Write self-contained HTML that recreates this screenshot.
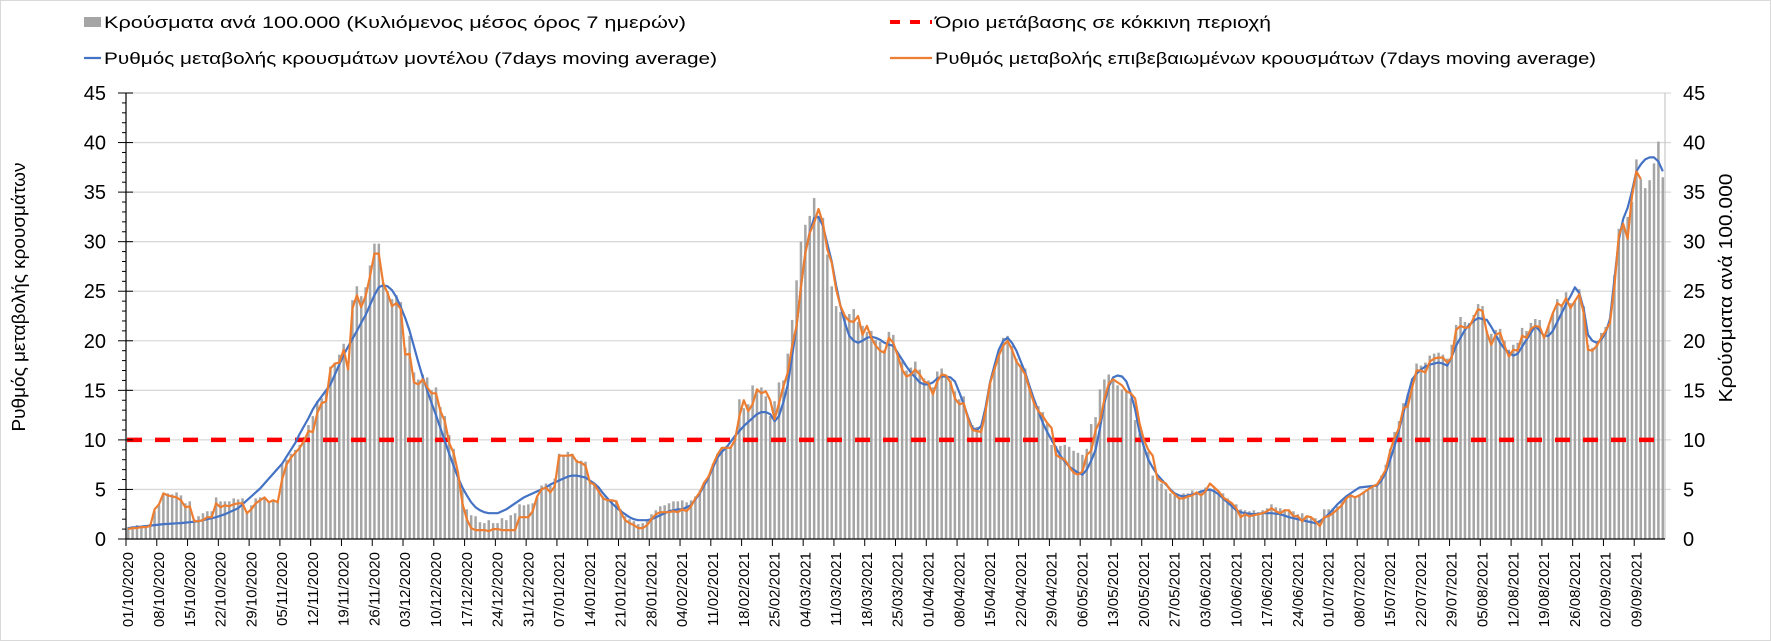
<!DOCTYPE html>
<html><head><meta charset="utf-8">
<style>
html,body{margin:0;padding:0;background:#fff;}
svg{display:block;font-family:"Liberation Sans",Arial,sans-serif;}
</style></head>
<body>
<svg id="chart" width="1771" height="641" viewBox="0 0 1771 641" xmlns="http://www.w3.org/2000/svg">
<rect x="0.5" y="0.5" width="1770" height="640" fill="#fff" stroke="#d9d9d9"/>
<g id="grid"></g>
<g id="bars"></g>
<g id="lines"></g>
<g id="axes"></g>
<g>
  <g>
    <rect x="84" y="17" width="17" height="10" fill="#a5a5a5"/>
    <text x="104" y="28" font-size="17" fill="#000" textLength="582" lengthAdjust="spacingAndGlyphs">Κρούσματα ανά 100.000 (Κυλιόμενος μέσος όρος 7 ημερών)</text>
  </g>
  <g>
    <line x1="84" y1="58" x2="101" y2="58" stroke="#4472c4" stroke-width="2.2"/>
    <text x="104" y="64" font-size="17" fill="#000" textLength="613" lengthAdjust="spacingAndGlyphs">Ρυθμός μεταβολής κρουσμάτων μοντέλου (7days moving average)</text>
  </g>
  <g>
    <line x1="890" y1="22" x2="932" y2="22" stroke="#ff0000" stroke-width="4" stroke-dasharray="10 10"/>
    <text x="935" y="28" font-size="17" fill="#000" textLength="336" lengthAdjust="spacingAndGlyphs">Όριο μετάβασης σε κόκκινη περιοχή</text>
  </g>
  <g>
    <line x1="890" y1="58" x2="932" y2="58" stroke="#ed7d31" stroke-width="2.2"/>
    <text x="935" y="64" font-size="17" fill="#000" textLength="661" lengthAdjust="spacingAndGlyphs">Ρυθμός μεταβολής επιβεβαιωμένων κρουσμάτων (7days moving average)</text>
  </g>
</g>
<text transform="translate(25,297) rotate(-90)" text-anchor="middle" font-size="18" fill="#000" textLength="269" lengthAdjust="spacingAndGlyphs">Ρυθμός μεταβολής κρουσμάτων</text>
<text transform="translate(1732,288) rotate(-90)" text-anchor="middle" font-size="18" fill="#000" textLength="229" lengthAdjust="spacingAndGlyphs">Κρούσματα ανά 100.000</text>
</svg>
<script>
const cases = [
1.2,1.3,1.4,1.3,1.4,1.5,2.8,3.4,4.6,4.6,
4.5,4.7,4.4,3.6,3.8,2.0,2.3,2.6,2.8,2.8,
4.2,3.8,3.8,3.8,4.1,4.0,4.1,2.8,3.4,4.1,
4.2,4.1,3.8,3.9,3.9,7.5,8.0,8.6,9.0,9.5,
10.3,11.5,12.4,13.9,14.2,14.9,17.4,17.8,18.6,19.7,
17.4,24.1,25.5,24.5,25.4,27.6,29.8,29.8,25.9,25.0,
24.2,24.6,23.9,19.3,20.5,16.8,16.1,16.6,16.3,15.0,
15.3,13.3,12.4,10.5,9.1,6.1,5.0,3.0,2.4,2.3,
1.7,1.6,1.9,1.6,1.6,2.1,1.9,2.4,2.6,3.5,
3.4,3.5,3.6,4.3,5.4,5.6,5.4,6.1,8.6,8.5,
8.8,8.6,8.0,7.9,7.8,5.8,5.6,4.9,4.3,4.1,
4.0,3.9,3.0,2.3,2.0,1.8,1.5,1.6,1.9,2.5,
2.9,3.3,3.4,3.6,3.8,3.8,3.9,3.7,3.9,4.3,
4.9,5.7,6.4,7.6,8.6,9.2,9.4,9.3,10.1,14.1,
13.2,13.6,15.5,14.9,15.3,14.4,12.4,13.9,15.8,16.0,
18.7,22.1,26.1,30.0,31.7,32.6,34.4,32.6,32.4,28.7,
25.5,23.5,22.9,22.4,22.7,23.2,21.9,21.5,20.9,21.0,
20.1,19.9,19.1,20.9,20.6,18.7,17.9,17.0,17.3,17.9,
17.1,16.2,16.0,15.3,16.9,17.2,16.3,16.0,14.9,14.1,
14.4,12.3,11.5,11.3,11.3,13.0,15.7,17.4,18.8,20.3,
20.5,19.5,18.2,17.6,17.2,15.3,14.1,13.4,12.8,11.6,
9.5,9.4,9.4,9.5,9.3,8.9,8.7,8.5,9.1,11.6,
12.3,15.1,16.1,16.6,16.1,15.5,15.1,15.0,14.2,12.0,
10.6,9.4,8.8,6.4,6.1,5.6,5.0,4.6,4.4,4.2,
4.6,4.6,4.9,4.5,4.9,5.2,5.0,5.1,4.8,4.6,
4.1,3.6,3.5,3.0,2.9,2.8,2.9,2.7,2.9,3.1,
3.5,3.2,3.1,3.0,2.8,2.8,2.5,2.6,2.2,2.1,
2.1,1.9,3.0,3.0,3.1,3.3,3.8,4.2,4.4,4.2,
4.5,4.8,4.9,5.3,5.6,6.4,7.5,9.1,10.8,11.9,
13.7,14.6,16.2,17.7,17.5,17.8,18.5,18.7,18.8,18.6,
18.2,19.6,21.6,22.4,21.9,21.8,22.6,23.7,23.5,21.0,
20.7,21.1,21.2,20.0,19.1,19.6,19.8,21.3,21.0,21.8,
22.2,22.1,20.6,21.5,22.8,24.2,23.6,24.9,23.8,24.0,
25.2,23.5,19.6,19.3,19.7,20.8,21.4,22.3,26.6,31.3,
31.8,32.5,34.0,38.3,36.3,35.4,36.2,37.9,40.1,36.5];
const modelRate = [
1.1,1.15,1.2,1.25,1.3,1.35,1.4,1.45,1.5,1.52,
1.55,1.58,1.6,1.65,1.7,1.75,1.8,1.9,2.0,2.1,
2.2,2.35,2.5,2.7,2.9,3.1,3.5,3.9,4.3,4.7,
5.1,5.6,6.1,6.6,7.1,7.6,8.3,9.0,9.7,10.6,
11.4,12.2,13.1,13.8,14.4,15.0,15.6,16.6,17.6,18.6,
19.4,20.2,21.0,21.8,22.6,23.6,24.6,25.4,25.6,25.5,
25.1,24.4,23.4,22.3,21.0,19.4,17.8,16.3,15.0,13.7,
12.5,11.2,9.9,8.6,7.4,6.2,5.2,4.4,3.7,3.2,
2.9,2.7,2.6,2.6,2.6,2.8,3.0,3.3,3.6,3.9,
4.2,4.4,4.6,4.8,5.0,5.2,5.5,5.7,5.9,6.1,
6.3,6.4,6.4,6.3,6.2,5.9,5.6,5.2,4.6,4.1,
3.6,3.2,2.8,2.5,2.2,2.0,1.9,1.9,1.9,2.0,
2.2,2.4,2.6,2.8,2.9,3.0,3.0,3.2,3.4,4.0,
4.6,5.4,6.2,7.2,8.2,8.8,9.2,9.8,10.4,10.9,
11.4,11.8,12.2,12.6,12.8,12.8,12.6,11.9,12.4,13.8,
15.6,18.5,21.5,25.5,28.9,31.0,32.4,32.5,31.6,29.8,
28.0,25.6,23.5,21.8,20.5,20.0,19.8,20.0,20.3,20.4,
20.3,20.1,19.8,19.6,19.5,18.8,18.1,17.4,16.8,16.3,
15.8,15.6,15.6,15.8,16.2,16.4,16.4,16.3,15.9,14.8,
13.6,12.3,11.2,11.0,11.4,13.3,15.8,17.5,19.1,20.0,
20.3,19.8,19.0,17.9,16.8,15.4,14.1,12.9,11.7,10.8,
10.0,9.2,8.4,7.8,7.3,7.0,6.7,6.5,7.0,7.9,
9.0,11.2,13.7,15.4,16.3,16.5,16.4,15.9,14.7,13.1,
10.8,9.3,8.0,7.2,6.5,6.0,5.5,5.0,4.6,4.4,
4.3,4.4,4.5,4.6,4.8,4.9,5.0,4.8,4.5,4.1,
3.7,3.3,2.9,2.7,2.6,2.55,2.5,2.55,2.6,2.6,
2.6,2.55,2.5,2.35,2.2,2.1,2.0,1.9,1.8,1.7,
1.6,1.8,2.1,2.5,3.0,3.5,3.9,4.3,4.6,4.9,
5.2,5.25,5.3,5.35,5.4,5.9,6.7,8.0,9.4,11.0,
12.7,14.5,16.1,16.7,17.1,17.4,17.6,17.7,17.8,17.7,
17.5,18.4,19.5,20.3,21.1,21.6,22.0,22.3,22.2,22.1,
21.4,20.6,19.8,19.2,18.8,18.5,18.7,19.4,20.1,20.8,
21.5,21.0,20.5,20.5,21.0,21.9,22.8,23.7,24.5,25.4,
24.8,23.2,20.6,20.0,19.8,20.1,20.8,22.2,26.2,30.2,
32.3,33.4,35.1,37.1,37.8,38.3,38.5,38.5,38.1,37.1];
const confirmedRate = [
1.0,1.1,1.1,1.2,1.2,1.3,3.0,3.5,4.6,4.4,
4.3,4.2,3.9,3.2,3.3,1.8,1.8,1.9,2.2,2.2,
3.6,3.2,3.4,3.3,3.5,3.6,3.6,2.6,3.0,3.6,
3.9,4.2,3.7,3.9,3.7,6.0,7.5,8.2,8.7,9.2,
9.9,10.9,10.8,12.7,13.7,13.9,17.2,17.7,17.8,19.1,
17.1,23.3,24.6,23.4,24.5,26.5,28.8,28.8,25.8,24.8,
23.5,23.8,23.2,18.6,18.7,15.8,15.6,16.1,15.3,14.7,
14.7,12.9,11.9,9.7,8.7,6.7,3.6,2.0,1.1,0.9,
0.9,0.9,0.8,1.0,1.0,0.9,0.9,0.9,0.9,2.2,
2.2,2.2,2.8,4.3,5.0,5.2,4.7,5.3,8.4,8.4,
8.4,8.5,7.8,7.7,7.4,5.7,5.5,4.8,4.1,3.9,
3.9,3.8,2.7,1.9,1.6,1.4,1.1,1.1,1.4,2.0,
2.5,2.7,2.7,2.7,2.8,2.7,3.0,2.8,3.3,4.1,
4.7,5.7,6.3,7.5,8.5,9.2,9.2,9.2,10.0,12.4,
14.0,12.9,13.6,15.1,14.7,14.9,14.0,12.1,13.7,15.4,
16.8,19.5,21.5,25.5,28.9,30.9,31.9,33.3,31.9,29.2,
27.9,25.2,23.5,22.5,22.0,21.9,22.5,20.6,21.5,20.3,
19.5,19.0,18.8,20.3,19.8,18.5,17.1,16.4,16.6,17.1,
16.6,15.9,15.7,14.6,15.9,16.6,16.5,15.8,14.2,13.6,
13.7,12.1,11.0,10.9,10.8,12.9,15.7,17.1,18.5,19.5,
20.0,19.1,17.9,17.3,16.6,15.1,13.7,12.9,12.4,11.7,
11.2,8.5,8.2,8.0,7.3,6.7,6.5,6.8,8.5,8.9,
11.0,11.9,14.1,15.7,16.1,15.8,15.5,14.9,14.7,14.2,
11.7,10.0,9.0,8.4,6.2,5.8,5.6,4.9,4.5,4.1,
4.1,4.3,4.4,4.7,4.4,4.8,5.6,5.2,4.8,4.2,
3.9,3.6,3.1,2.2,2.5,2.3,2.4,2.5,2.6,2.8,
3.1,2.8,2.6,2.9,2.9,2.3,2.3,1.8,2.3,2.2,
1.8,1.3,2.2,2.3,2.6,3.0,3.4,4.1,4.4,4.2,
4.4,4.7,5.0,5.3,5.5,6.2,7.0,8.9,10.2,11.2,
13.2,13.4,15.3,17.0,17.0,16.8,17.9,18.2,18.3,18.3,
17.8,18.3,21.1,21.5,21.3,21.4,22.3,23.2,23.0,20.8,
19.6,20.6,20.8,19.5,18.4,19.1,19.0,20.5,20.3,21.2,
21.5,21.4,20.3,21.5,22.8,23.8,23.5,24.3,23.3,24.0,
24.7,22.8,19.1,19.0,19.5,20.3,21.0,21.8,25.5,30.6,
31.8,30.3,34.6,37.1,36.3];
const threshold = [10];
const yTicks = [0,5,10,15,20,25,30,35,40,45];
const startDate = [2020,10,1];

const NS = "http://www.w3.org/2000/svg";
const L = 126, R = 1665, T = 93, B = 539, YMAX = 45;
const N = cases.length;
const w = (R - L) / N;
function xBand(i){ return L + i * w; }
function xMid(i){ return L + (i + 0.5) * w; }
function y(v){ return B - v / YMAX * (B - T); }
function mk(tag, attrs, parent){
  const e = document.createElementNS(NS, tag);
  for (const k in attrs) e.setAttribute(k, attrs[k]);
  parent.appendChild(e);
  return e;
}
const grid = document.getElementById('grid');
const axes = document.getElementById('axes');
const barsG = document.getElementById('bars');
const linesG = document.getElementById('lines');

yTicks.forEach(t => {
  if (t > 0) {
    const g = mk('line', {x1:L, x2:1671, y1:y(t), y2:y(t), stroke:'#d9d9d9', 'stroke-width':1.3}, grid);
    
    
  }
  const lt = mk('text', {x:106, y:y(t)+7, 'text-anchor':'end', 'font-size':20, fill:'#000'}, axes);
  lt.textContent = t;
  
  
  const rt = mk('text', {x:1683, y:y(t)+7, 'text-anchor':'start', 'font-size':20, fill:'#000'}, axes);
  rt.textContent = t;
  
  
});
for (let v = 0; v <= YMAX; v++) {
  const major = v % 5 === 0;
  mk('line', {x1: major ? 118 : 122, x2: major ? 133 : L, y1:y(v), y2:y(v), stroke:'#000', 'stroke-width':1}, axes);
}
mk('line', {x1:R, x2:R, y1:T, y2:B, stroke:'#bfbfbf', 'stroke-width':1}, grid);

cases.forEach((v, i) => {
  const r = mk('rect', {x: xMid(i) - 1.25, y: y(v), width: 2.5, height: B - y(v), fill:'#a5a5a5'}, barsG);
  
  
});

const th = mk('line', {x1:L+1, x2:1655, y1:y(threshold[0]), y2:y(threshold[0]), stroke:'#ff0000', 'stroke-width':4.5, 'stroke-dasharray':'15 13'}, linesG);



function path(arr){ return arr.map((v,i) => (i ? 'L' : 'M') + xMid(i).toFixed(1) + ',' + y(v).toFixed(1)).join(''); }
const pb = mk('path', {d: path(modelRate), fill:'none', stroke:'#4472c4', 'stroke-width':2.2, 'stroke-linejoin':'round'}, linesG);


const po = mk('path', {d: path(confirmedRate), fill:'none', stroke:'#ed7d31', 'stroke-width':2.2, 'stroke-linejoin':'round'}, linesG);



mk('line', {x1:L, x2:L, y1:T, y2:B, stroke:'#000', 'stroke-width':1.2}, axes);
mk('line', {x1:L, x2:R, y1:B, y2:B, stroke:'#000', 'stroke-width':1.2}, axes);

const d0 = new Date(startDate[0], startDate[1]-1, startDate[2], 12);
for (let i = 0; i < N; i += 7) {
  mk('line', {x1:xBand(i), x2:xBand(i), y1:B, y2:B+7, stroke:'#000', 'stroke-width':1}, axes);
  const d = new Date(d0.getTime() + i * 86400000);
  const s = String(d.getDate()).padStart(2,'0') + '/' + String(d.getMonth()+1).padStart(2,'0') + '/' + d.getFullYear();
  const t = mk('text', {transform:'translate(' + (xMid(i)+5).toFixed(1) + ',552) rotate(-90)', 'text-anchor':'end', 'font-size':15, fill:'#000'}, axes);
  t.textContent = s;
  
  
}
</script>
</body></html>
